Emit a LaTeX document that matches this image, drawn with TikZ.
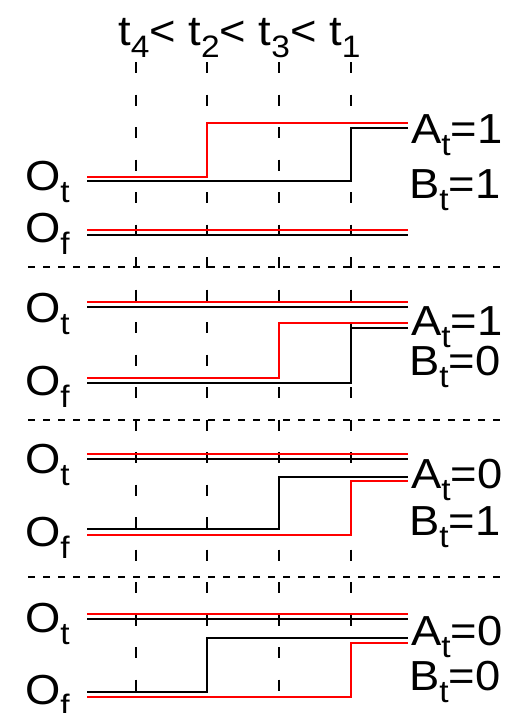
\documentclass[tikz,border=0pt]{standalone}
\usepackage{fontspec}
\setmainfont{Liberation Sans}
\usetikzlibrary{positioning}
\definecolor{sigred}{RGB}{255,0,0}
\newcommand{\lowsub}[1]{\raisebox{-12pt}{\fontsize{31}{31}\selectfont #1}}

\begin{document}
\begin{tikzpicture}[
    x=1pt, y=-1pt,
    lbl/.style={font=\fontsize{42}{42}\selectfont, inner sep=0pt, anchor=base west, xscale=1.08},
    sig/.style={line width=2.9pt},
    tline/.style={line width=1.8pt, dash pattern=on 11pt off 21.5pt},
    sepline/.style={line width=1.8pt, dash pattern=on 7pt off 8pt},
]
\useasboundingbox (0,0) rectangle (518,713);

% time marks
\node[lbl] (order) at (118,45) {t\lowsub{4}< t\lowsub{2}< t\lowsub{3}< t\lowsub{1}};
\foreach \x in {136,207,279,351}
  \draw[tline] (\x,62) -- (\x,692);

% panel separators
\foreach \y in {267,420,577}
  \draw[sepline] (28,\y) -- (507,\y);

% panel 1: A=1, B=1
\node[lbl] (ot1) at (25,190) {O\lowsub{t}};
\node[lbl] (of1) at (25,242) {O\lowsub{f}};
\node[lbl] (at1) at (411,143) {A\lowsub{t}=1};
\node[lbl] (bt1) at (409,198) {B\lowsub{t}=1};
\draw[sig] (87,181) -- (351,181) -- (351,128) -- (408,128);
\draw[sig, sigred] (87,177) -- (207,177) -- (207,123) -- (408,123);
\draw[sig] (87,235) -- (408,235);
\draw[sig, sigred] (87,230) -- (408,230);

% panel 2: A=1, B=0
\node[lbl] (ot2) at (25,322) {O\lowsub{t}};
\node[lbl] (of2) at (25,395) {O\lowsub{f}};
\node[lbl] (at2) at (411,335) {A\lowsub{t}=1};
\node[lbl] (bt2) at (409,375) {B\lowsub{t}=0};
\draw[sig] (87,307) -- (408,307);
\draw[sig, sigred] (87,302) -- (408,302);
\draw[sig] (87,383) -- (351,383) -- (351,328) -- (408,328);
\draw[sig, sigred] (87,378) -- (279,378) -- (279,323) -- (408,323);

% panel 3: A=0, B=1
\node[lbl] (ot3) at (25,473) {O\lowsub{t}};
\node[lbl] (of3) at (25,546) {O\lowsub{f}};
\node[lbl] (at3) at (411,488) {A\lowsub{t}=0};
\node[lbl] (bt3) at (409,535) {B\lowsub{t}=1};
\draw[sig] (87,459) -- (408,459);
\draw[sig, sigred] (87,454) -- (408,454);
\draw[sig] (87,529) -- (279,529) -- (279,477) -- (408,477);
\draw[sig, sigred] (87,535) -- (351,535) -- (351,481) -- (408,481);

% panel 4: A=0, B=0
\node[lbl] (ot4) at (25,632) {O\lowsub{t}};
\node[lbl] (of4) at (25,704) {O\lowsub{f}};
\node[lbl] (at4) at (411,645) {A\lowsub{t}=0};
\node[lbl] (bt4) at (409,690) {B\lowsub{t}=0};
\draw[sig] (87,619) -- (408,619);
\draw[sig, sigred] (87,614) -- (408,614);
\draw[sig] (87,692) -- (207,692) -- (207,638) -- (408,638);
\draw[sig, sigred] (87,697) -- (351,697) -- (351,643) -- (408,643);
\end{tikzpicture}
\end{document}
